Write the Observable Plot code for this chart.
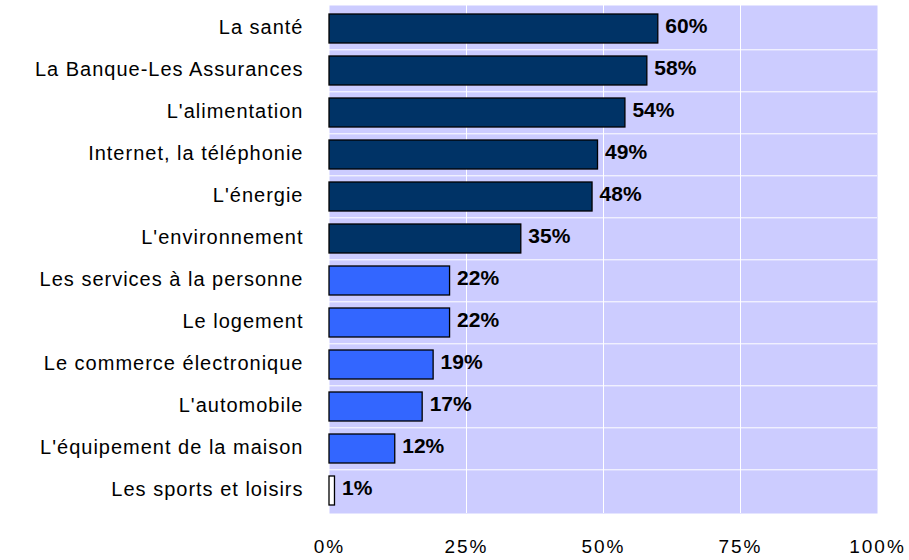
<!DOCTYPE html>
<html><head><meta charset="utf-8">
<script src="https://cdn.jsdelivr.net/npm/d3@7"></script>
<script src="https://cdn.jsdelivr.net/npm/@observablehq/plot@0.6"></script>
<style>
body{margin:0;background:#fff;font-family:"Liberation Sans",Arial,sans-serif;}
g[aria-label="y-axis tick label"] text{letter-spacing:1px;}
g[aria-label="x-axis tick label"] text{letter-spacing:2px;}
g[aria-label="valeurs"] text{letter-spacing:1.5px;}
</style>
</head><body><div id="chart"></div>
<script>
const categories = ["La santé","La Banque-Les Assurances","L'alimentation","Internet, la téléphonie","L'énergie","L'environnement","Les services à la personne","Le logement","Le commerce électronique","L'automobile","L'équipement de la maison","Les sports et loisirs"];
const values = [60,58,54,49,48,35,22,22,19,17,12,1];
const groups = ["haut","haut","haut","haut","haut","haut","moyen","moyen","moyen","moyen","moyen","bas"];
const xTicks = [0,25,50,75,100];

const data = categories.map((c,i)=>({cat:c, v:values[i], g:groups[i]}));

const chart = Plot.plot({
  width: 909, height: 560,
  marginLeft: 329, marginRight: 32, marginTop: 5, marginBottom: 47,
  style: {fontFamily: '"Liberation Sans",Arial,sans-serif', background: "#fff"},
  x: {domain:[0,100], label:null},
  y: {domain: categories, paddingInner: 0.31, paddingOuter: 0.12, label:null},
  color: {domain:["haut","moyen","bas"], range:["#003366","#3366ff","#ffffff"]},
  marks: [
    Plot.frame({fill:"#ccccff", stroke:null}),
    Plot.gridX(xTicks.slice(1,-1), {stroke:"#fff", strokeOpacity:1, strokeWidth:1}),
    Plot.ruleY(categories.slice(1), {y: d=>d, dy: -21.2, stroke:"#fff", strokeOpacity:1, strokeWidth:1}),
    Plot.barX(data, {x:"v", y:"cat", fill:"g", stroke:"#000", strokeWidth:1.3}),
    Plot.text(data, {x:"v", y:"cat", text:d=>d.v+"%", textAnchor:"start", dx:7, dy:-2.5, fontWeight:"bold", fontSize:21, fill:"#000", ariaLabel:"valeurs"}),
    Plot.axisX({ticks:xTicks, tickFormat:d=>d+"%", tickSize:0, tickPadding:26, fontSize:19, label:null, anchor:"bottom"}),
    Plot.axisY({tickSize:0, tickPadding:26, fontSize:20, dy:-1.5, label:null})
  ]
});
document.getElementById("chart").appendChild(chart);
</script></body></html>
